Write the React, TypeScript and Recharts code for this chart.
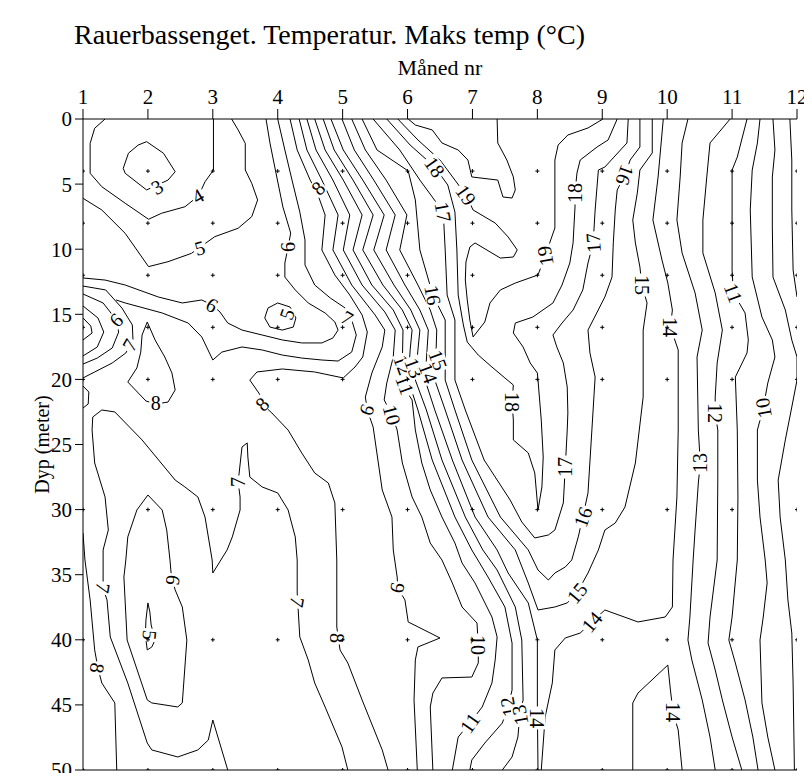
import { ComposedChart, Line, Scatter, XAxis, YAxis, ReferenceLine } from 'recharts'

// month / depth (m) pairs
type Pt = [number, number]

const months = [1, 2, 3, 4, 5, 6, 7, 8, 9, 10, 11, 12]
const depthTicks = [0, 5, 10, 15, 20, 25, 30, 35, 40, 45, 50]
const sampleDepths = [4, 8, 12, 16, 20, 30, 40, 50]

const iso3: Pt[] = [[1.98,1.74],[2.24,2.63],[2.42,4.05],[2.31,4.69],[1.98,5.45],[1.65,4.17],[1.62,3.79],[1.7,2.63],[1.85,2.0],[1.98,1.74]]
const iso4: Pt[] = [[1.34,0],[1.18,0.71],[1.11,1.87],[1.11,4.17],[1.29,5.2],[1.65,6.47],[2.01,7.7],[2.21,7.24],[2.57,6.74],[2.78,5.91],[2.88,4.82],[3.01,3.92],[3.01,0]]
const iso5: Pt[] = [[1.0,6.09],[1.29,6.99],[1.65,8.78],[2.01,11.34],[2.31,10.96],[2.67,10.32],[3.03,9.04],[3.39,8.39],[3.6,7.5],[3.69,6.22],[3.6,4.94],[3.5,3.92],[3.5,1.87],[3.39,0.84],[3.29,0]]
const iso5Pocket: Pt[] = [[4.0,14.13],[3.85,14.52],[3.8,15.28],[3.88,15.98],[4.07,16.21],[4.24,15.98],[4.28,15.28],[4.19,14.44],[4.0,14.13]]
const iso6: Pt[] = [[1.0,12.21],[1.34,12.37],[1.65,12.75],[2.16,13.67],[2.53,14.13],[2.83,13.9],[2.99,14.29],[3.11,14.82],[3.23,15.67],[3.45,16.21],[3.76,16.59],[4.07,16.97],[4.37,17.2],[4.68,17.2],[4.85,16.82],[4.93,16.21],[4.88,15.59],[4.73,14.9],[4.47,14.13],[4.27,13.13],[4.11,12.14],[4.11,11.06],[4.16,9.83],[4.2,8.76],[4.08,6.76],[3.97,4.07],[3.88,1.84],[3.82,0]]
const iso7: Pt[] = [[1.51,13.9],[1.65,14.13],[1.88,14.44],[2.22,14.9],[2.62,15.67],[2.83,16.74],[3.0,18.51],[3.14,17.9],[3.45,17.51],[3.76,17.74],[4.07,18.13],[4.37,18.36],[4.68,18.51],[4.93,18.59],[5.14,17.9],[5.21,16.59],[5.14,15.44],[5.04,14.52],[4.81,13.75],[4.57,12.75],[4.42,11.21],[4.42,9.29],[4.34,7.14],[4.22,4.69],[4.11,2.38],[4.0,0]]
const iso8: Pt[] = [[4.19,0],[4.3,2.38],[4.5,4.69],[4.62,5.84],[4.73,7.37],[4.68,10.06],[4.88,11.98],[5.11,13.52],[5.3,15.05],[5.38,16.36],[5.31,18.28],[5.19,19.05],[5.01,19.89],[4.57,19.43],[4.07,19.2],[3.68,19.43],[3.57,20.05],[3.73,21.2],[3.76,21.89],[3.91,22.58],[4.16,23.89],[4.37,25.65],[4.57,27.19],[4.78,27.96],[4.88,29.49],[4.91,33.87],[4.91,39.02],[4.96,40.78],[5.08,41.78],[5.3,44.62],[5.61,48.46],[5.7,50]]
const iso9: Pt[] = [[4.33,0],[4.45,2.38],[4.68,4.69],[4.93,7.37],[4.85,10.06],[5.14,12.75],[5.5,15.05],[5.65,16.21],[5.61,17.51],[5.45,19.51],[5.35,21.35],[5.38,22.35],[5.47,23.66],[5.55,26.42],[5.61,28.49],[5.76,30.57],[5.78,33.1],[5.84,35.18],[5.85,36.02],[5.96,36.94],[6.01,38.63],[6.5,39.86],[6.16,40.55],[6.12,41.55],[6.1,44.62],[6.15,50]]
const iso10: Pt[] = [[4.45,0],[4.59,2.38],[4.85,4.69],[5.11,7.37],[5.01,10.06],[5.3,12.75],[5.65,14.82],[5.81,16.21],[5.78,18.28],[5.68,20.28],[5.64,21.58],[5.76,22.73],[5.84,23.89],[5.92,26.42],[6.07,29.03],[6.22,30.57],[6.35,32.57],[6.53,33.87],[6.69,35.64],[6.84,37.48],[7.07,38.71],[7.09,40.4],[7.09,41.78],[6.99,42.86],[6.53,42.93],[6.39,44.09],[6.35,45.16],[6.39,50]]
const iso11: Pt[] = [[4.57,0],[4.73,2.38],[5.01,4.69],[5.3,7.37],[5.16,10.06],[5.45,12.75],[5.78,14.67],[5.93,16.21],[5.92,18.74],[5.87,20.05],[6.07,21.58],[6.12,23.89],[6.22,26.42],[6.35,28.49],[6.53,30.57],[6.73,32.57],[6.84,34.1],[7.04,35.64],[7.3,38.25],[7.38,39.78],[7.35,41.55],[7.3,43.32],[7.15,45.16],[6.96,46.39],[6.78,47.47],[6.69,50]]
const iso12: Pt[] = [[4.7,0],[4.87,2.38],[5.16,4.69],[5.47,7.37],[5.31,10.06],[5.62,12.75],[5.92,14.67],[6.07,16.21],[6.04,17.74],[6.01,20.05],[6.16,22.35],[6.38,26.19],[6.73,30.57],[6.99,33.1],[7.24,35.18],[7.5,37.48],[7.61,40.25],[7.61,43.86],[7.55,45.16],[7.46,46.39],[7.19,47.93],[6.99,49.23],[6.96,50]]
const iso13: Pt[] = [[4.82,0],[5.01,2.38],[5.31,4.69],[5.64,7.37],[5.48,10.06],[5.79,12.75],[6.05,14.67],[6.19,16.21],[6.16,17.74],[6.12,20.05],[6.29,22.35],[6.53,26.19],[6.89,30.57],[7.16,33.1],[7.38,34.64],[7.66,37.48],[7.76,40.02],[7.78,44.62],[7.73,45.78],[7.7,47.47],[7.61,49.0],[7.46,50]]
const iso14: Pt[] = [[4.99,0],[5.18,2.38],[5.48,4.69],[5.81,7.37],[5.67,10.06],[5.96,12.75],[6.19,14.67],[6.32,16.21],[6.3,17.74],[6.27,20.05],[6.42,22.35],[6.69,26.19],[7.04,30.57],[7.38,33.1],[7.55,34.87],[7.86,37.17],[8.0,40.02],[8.0,45.39],[8.01,50]]
const iso15: Pt[] = [[5.14,0],[5.35,2.38],[5.67,4.69],[5.99,7.37],[5.88,10.06],[6.16,12.75],[6.35,14.67],[6.45,16.21],[6.44,17.74],[6.42,20.05],[6.58,22.35],[6.84,26.19],[7.24,30.57],[7.66,33.1],[7.86,35.64],[8.01,37.71],[8.27,37.48],[8.46,37.17],[8.61,36.41],[8.78,34.87],[8.94,33.1],[9.04,31.57],[9.2,31.03],[9.35,29.8],[9.51,26.42],[9.63,21.35],[9.63,16.21],[9.69,14.13],[9.61,12.75],[9.58,11.37],[9.51,9.52],[9.47,7.76],[9.54,5.68],[9.58,3.92],[9.77,2.61],[9.77,0]]
const iso16: Pt[] = [[5.3,0],[5.53,2.38],[6.01,3.99],[6.12,6.22],[6.19,10.06],[6.39,13.52],[6.58,15.44],[6.58,17.74],[6.58,20.05],[6.73,22.35],[6.99,26.19],[7.43,30.57],[7.86,33.1],[8.01,34.64],[8.17,35.41],[8.27,34.87],[8.43,34.41],[8.53,33.87],[8.63,32.1],[8.7,30.57],[8.78,28.72],[8.84,23.89],[8.89,19.82],[8.81,17.97],[8.78,16.21],[9.04,13.67],[9.15,12.14],[9.17,9.52],[9.2,6.99],[9.23,5.45],[9.35,4.3],[9.43,3.15],[9.58,2.15],[9.58,0]]
const iso17: Pt[] = [[5.47,0],[5.88,2.38],[6.19,4.69],[6.55,7.14],[6.58,10.06],[6.61,13.52],[6.73,15.44],[6.73,17.74],[6.73,20.05],[6.89,22.35],[7.18,26.19],[7.58,29.26],[7.76,30.95],[7.96,32.18],[8.17,31.95],[8.27,31.57],[8.4,29.49],[8.43,26.73],[8.46,23.89],[8.47,22.58],[8.46,20.58],[8.4,18.74],[8.3,17.51],[8.24,16.59],[8.38,15.67],[8.55,14.67],[8.7,13.13],[8.78,11.06],[8.86,9.52],[8.89,6.99],[8.94,3.92],[9.04,3.69],[9.38,1.84],[9.4,0]]
const iso18: Pt[] = [[5.68,0],[6.04,2.0],[6.42,3.69],[6.62,5.07],[6.73,7.14],[6.76,10.06],[6.78,13.52],[6.86,15.82],[6.92,17.13],[7.09,18.13],[7.3,19.05],[7.5,19.89],[7.63,20.43],[7.61,21.74],[7.63,23.12],[7.63,24.65],[7.86,25.65],[7.96,27.19],[8.01,30.03],[8.07,28.26],[8.09,25.96],[8.06,23.12],[8.01,20.05],[8.0,19.51],[7.89,18.74],[7.78,17.51],[7.63,16.44],[7.66,15.67],[7.93,15.21],[8.24,14.13],[8.38,12.75],[8.5,11.06],[8.55,9.52],[8.58,6.76],[8.58,5.68],[8.61,4.15],[8.66,3.15],[8.92,2.15],[9.09,1.61],[9.23,0]]
const iso19: Pt[] = [[5.85,0],[6.16,1.61],[6.5,3.15],[6.73,4.69],[6.9,5.84],[7.01,6.99],[7.35,7.99],[7.55,9.06],[7.69,10.06],[7.63,10.6],[7.43,10.68],[7.04,9.52],[6.96,9.83],[6.9,10.98],[6.89,12.37],[6.92,13.9],[6.96,15.44],[7.01,16.74],[7.19,15.59],[7.27,14.13],[7.43,13.13],[7.66,12.6],[8.01,11.98],[8.12,10.52],[8.27,8.37],[8.27,3.15],[8.32,2.0],[8.47,1.23],[8.78,0.69],[9.01,0]]
const iso20: Pt[] = [[6.01,0],[6.12,0.46],[6.38,0.84],[6.53,1.84],[6.78,2.38],[6.93,3.15],[6.99,4.45],[7.39,4.69],[7.47,5.99],[7.61,6.07],[7.66,5.45],[7.63,4.45],[7.53,3.15],[7.39,1.84],[7.38,0]]

// right-hand side, nearly vertical isotherms
const iso14East: Pt[] = [[9.94,0],[9.86,4.45],[9.78,7.76],[9.92,10.83],[10.01,12.6],[10.08,14.67],[10.05,15.98],[10.17,17.74],[10.17,23.89],[10.15,29.03],[10.09,33.87],[10.08,37.48],[9.97,38.25],[9.55,38.63],[9.04,37.71],[8.84,38.63],[8.66,39.48],[8.43,39.86],[8.27,40.78],[8.23,43.32],[8.12,45.93],[8.06,50]]
const iso14Bottom: Pt[] = [[9.47,50],[9.47,44.85],[9.55,44.09],[10.01,41.94],[10.05,43.86],[10.09,45.55],[10.17,46.93],[10.23,50]]
const iso13East: Pt[] = [[10.32,0],[10.23,1.84],[10.2,4.45],[10.15,7.76],[10.23,10.29],[10.43,13.36],[10.54,16.21],[10.46,18.28],[10.48,23.89],[10.51,26.42],[10.48,27.96],[10.43,31.57],[10.4,33.87],[10.35,38.25],[10.32,40.02],[10.38,41.55],[10.54,44.62],[10.66,47.47],[10.74,50]]
const iso12East: Pt[] = [[10.97,0],[10.66,1.84],[10.61,4.45],[10.55,7.76],[10.55,10.29],[10.74,13.36],[10.85,16.21],[10.77,18.74],[10.74,21.35],[10.74,22.58],[10.78,23.89],[10.78,27.73],[10.77,33.87],[10.66,38.25],[10.63,40.25],[10.74,42.32],[10.85,44.62],[11.0,47.47],[11.15,50]]
const iso11East: Pt[] = [[11.23,0],[11.08,2.92],[11.0,3.92],[11.0,6.99],[11.0,11.6],[11.02,13.36],[11.2,14.9],[11.25,16.97],[11.23,17.97],[11.05,19.82],[11.08,23.89],[11.09,29.03],[11.08,33.87],[11.0,38.25],[10.95,40.02],[11.05,41.78],[11.2,44.62],[11.32,47.47],[11.4,50]]
const iso10East: Pt[] = [[11.43,0],[11.39,1.84],[11.31,3.92],[11.28,6.99],[11.31,12.14],[11.46,15.21],[11.62,16.97],[11.66,18.28],[11.55,20.28],[11.48,22.2],[11.39,23.89],[11.39,27.73],[11.43,30.57],[11.51,33.87],[11.54,35.64],[11.48,38.25],[11.43,40.02],[11.46,44.85],[11.55,47.47],[11.66,50]]
const iso9East: Pt[] = [[11.63,0],[11.66,2.38],[11.62,4.45],[11.62,8.29],[11.63,12.14],[11.82,14.67],[11.92,16.97],[12.0,18.28],[12.0,20.05],[11.92,22.12],[11.82,24.65],[11.71,27.73],[11.74,30.57],[11.82,33.87],[11.86,36.94],[11.92,39.48],[11.94,43.32],[11.96,50]]
const iso8East: Pt[] = [[11.89,0],[11.92,3.15],[11.92,6.99],[11.94,11.6],[12.0,13.67]]

// left-hand side, around the January anomaly and the deep cold core
const arcA: Pt[] = [[1.0,15.28],[1.12,15.9],[1.14,16.44],[1.0,16.97]]
const arcB: Pt[] = [[1.0,14.36],[1.23,15.28],[1.32,16.36],[1.22,17.51],[1.0,18.2]]
const arcC: Pt[] = [[1.0,13.44],[1.31,14.13],[1.49,15.28],[1.55,16.36],[1.45,17.59],[1.22,18.36],[1.0,18.82]]
const arcD: Pt[] = [[1.0,12.83],[1.35,13.13],[1.6,14.52],[1.76,15.82],[1.77,16.97],[1.66,17.97],[1.45,18.74],[1.18,19.43],[1.0,19.89]]
const arcE: Pt[] = [[1.0,20.51],[1.09,20.97],[1.08,21.89],[1.0,22.2]]
const iso8Tongue: Pt[] = [[1.69,20.2],[1.83,19.12],[1.89,17.9],[1.91,16.59],[1.99,15.59],[2.11,16.97],[2.26,18.28],[2.37,19.51],[2.42,20.81],[2.31,21.74],[2.12,21.89],[1.97,21.66],[1.69,20.2]]
const iso6Deep: Pt[] = [[2.0,28.88],[1.83,30.03],[1.69,32.1],[1.66,33.87],[1.63,35.18],[1.68,40.02],[1.99,44.62],[2.06,44.85],[2.46,45.16],[2.53,44.85],[2.6,40.02],[2.53,37.48],[2.42,36.17],[2.36,35.02],[2.34,33.87],[2.29,31.57],[2.22,30.03],[2.0,28.88]]
const iso5Deep: Pt[] = [[2.0,37.17],[1.97,38.48],[1.96,39.63],[1.99,40.78],[2.06,40.55],[2.11,40.02],[2.05,38.86],[2.03,37.86],[2.0,37.17]]
const iso7Deep: Pt[] = [[3.23,50],[3.0,46.16],[2.93,47.7],[2.77,48.46],[2.46,49.0],[2.06,48.46],[1.99,47.93],[1.69,43.32],[1.42,39.78],[1.37,36.94],[1.31,36.02],[1.31,33.1],[1.39,31.57],[1.34,29.03],[1.18,26.42],[1.14,23.89],[1.15,22.89],[1.29,22.35],[1.49,22.5],[1.91,24.65],[2.42,27.73],[2.57,28.26],[2.77,29.03],[2.88,30.57],[2.99,33.87],[3.0,34.87],[3.22,33.1],[3.3,32.1],[3.42,30.03],[3.42,29.03],[3.39,27.88],[3.45,25.19],[3.53,24.88],[3.54,25.96],[3.57,27.5],[3.76,28.26],[4.0,28.72],[4.16,30.03],[4.27,32.1],[4.3,33.87],[4.3,36.41],[4.34,39.78],[4.47,41.55],[4.57,43.32],[4.73,45.16],[4.99,48.23],[5.08,50]]
const iso8Deep: Pt[] = [[1.0,31.8],[1.03,33.87],[1.11,36.94],[1.18,40.78],[1.23,42.17],[1.29,43.32],[1.49,44.85],[1.52,50]]

const contours: Pt[][] = [
  iso3, iso4, iso5, iso5Pocket, iso6, iso7, iso8, iso9, iso10, iso11, iso12, iso13, iso14,
  iso15, iso16, iso17, iso18, iso19, iso20,
  iso14East, iso14Bottom, iso13East, iso12East, iso11East, iso10East, iso9East, iso8East,
  arcA, arcB, arcC, arcD, arcE, iso8Tongue, iso6Deep, iso5Deep, iso7Deep, iso8Deep,
]

// contour labels: text, anchor (month, depth), angle
const labelTexts = [
  '3', '4', '5', '6', '5', '6', '8', '7', '6', '7', '8', '8', '7', '7', '7', '6', '5', '8',
  '9', '10', '11', '12', '13', '14', '15', '16', '17', '18', '19',
  '18', '18', '19', '17', '16', '15', '14', '13', '12', '11', '10', '17', '16', '15', '14', '14',
  '9', '8', '10', '11', '12', '13', '14',
]
const labelPoints: Pt[] = [
  [2.14,5.22],[2.77,5.91],[2.8,9.91],[2.99,14.29],[4.14,14.98],[4.16,9.83],[4.62,5.3],[5.07,15.28],
  [1.51,15.44],[1.72,17.36],[2.12,21.81],[3.76,21.89],[3.39,27.88],[4.3,37.1],[1.31,36.02],[2.39,35.41],[2.03,39.63],[1.22,42.17],
  [5.38,22.35],[5.76,22.73],[5.96,20.43],[5.93,18.89],[6.1,19.12],[6.32,19.51],[6.47,18.51],[6.39,13.52],[6.55,7.14],[6.42,3.69],[6.9,5.84],
  [7.61,21.74],[8.58,5.68],[8.12,10.52],[8.86,9.52],[9.35,4.3],[9.61,12.75],[10.05,15.98],[10.51,26.42],[10.74,22.58],[11.02,13.36],[11.48,22.2],
  [8.43,26.73],[8.7,30.57],[8.61,36.41],[8.84,38.63],[10.09,45.55],
  [5.85,36.02],[4.91,39.86],[7.09,40.4],[6.96,46.39],[7.55,45.16],[7.73,45.78],[8.0,46.0],
]
const labelAngles = [
  -30, -30, -15, 30, -70, -90, -45, 30, -45, -60, 0, -45, -90, 100, 100, 100, 95, 100,
  110, 75, 70, 70, 70, 70, 70, 80, 80, 55, 55,
  90, -90, -100, -95, 110, 90, 90, -90, 90, 70, -100, -90, -70, -50, -50, 90,
  100, 90, 90, -55, -100, -100, 90,
]

const SERIF = '"Liberation Serif", "DejaVu Serif", serif'

const toRows = (pts: Pt[]) => pts.map(([m, d]) => ({ m, d }))

const gridRows = months.flatMap((m) => sampleDepths.map((d) => ({ m, d })))
const labelRows = labelTexts.map((text, i) => ({
  m: labelPoints[i][0],
  d: labelPoints[i][1],
  text,
  angle: labelAngles[i],
}))

function PlusMark(props: any) {
  const { cx, cy } = props
  if (cx == null || cy == null) return <g />
  return (
    <path
      d={`M${cx - 2},${cy}H${cx + 2}M${cx},${cy - 2}V${cy + 2}`}
      stroke="#000"
      strokeWidth={1}
      fill="none"
    />
  )
}

function ContourLabel(props: any) {
  const { cx, cy, payload } = props
  if (cx == null || cy == null || !payload) return <g />
  const w = payload.text.length * 10 + 3
  return (
    <g transform={`translate(${cx},${cy}) rotate(${payload.angle})`}>
      <rect x={-w / 2} y={-8} width={w} height={16} fill="#fff" />
      <text
        x={0}
        y={0}
        dy="0.35em"
        textAnchor="middle"
        fontSize={20}
        fontFamily={SERIF}
        fill="#000"
      >
        {payload.text}
      </text>
    </g>
  )
}

export default function App() {
  // cancel the body margin so the chart uses the whole 812x781 page
  return (
    <div style={{ position: 'relative', width: 812, height: 781, margin: -8, background: '#fff' }}>
      <div
        style={{
          position: 'absolute',
          left: 74,
          top: 21,
          fontSize: 28,
          lineHeight: '28px',
          fontFamily: SERIF,
          whiteSpace: 'nowrap',
          color: '#000',
        }}
      >
        Rauerbassenget. Temperatur. Maks temp (°C)
      </div>
      <ComposedChart width={812} height={781} margin={{ top: 79, right: 15, bottom: 11, left: 23 }}>
        <XAxis
          xAxisId="top"
          orientation="top"
          type="number"
          dataKey="m"
          domain={[1, 12]}
          ticks={months}
          interval={0}
          allowDataOverflow
          height={40}
          tickSize={10}
          tickMargin={5}
          axisLine={{ stroke: '#000' }}
          tickLine={{ stroke: '#000' }}
          tick={{ fill: '#000', fontSize: 21, fontFamily: SERIF }}
          label={{ value: 'Måned nr', position: 'top', offset: 4, fill: '#000', fontSize: 22, fontFamily: SERIF }}
        />
        <YAxis
          type="number"
          dataKey="d"
          domain={[0, 50]}
          reversed
          ticks={depthTicks}
          interval={0}
          allowDataOverflow
          width={60}
          tickSize={8}
          tickMargin={3}
          axisLine={{ stroke: '#000' }}
          tickLine={{ stroke: '#000' }}
          tick={{ fill: '#000', fontSize: 21, fontFamily: SERIF }}
          label={{
            value: 'Dyp (meter)',
            angle: -90,
            position: 'insideLeft',
            offset: 19,
            fill: '#000',
            fontSize: 20,
            fontFamily: SERIF,
            style: { textAnchor: 'middle' },
          }}
        />
        <ReferenceLine xAxisId="top" y={50} stroke="#000" />

        {contours.map((c, i) => (
          <Line
            key={`c${i}`}
            xAxisId="top"
            data={toRows(c)}
            dataKey="d"
            type="linear"
            stroke="#000"
            strokeWidth={1}
            dot={false}
            activeDot={false}
            isAnimationActive={false}
          />
        ))}

        <Scatter xAxisId="top" data={labelRows} shape={ContourLabel} isAnimationActive={false} />
        <Scatter xAxisId="top" data={gridRows} shape={PlusMark} isAnimationActive={false} />
      </ComposedChart>
    </div>
  )
}
